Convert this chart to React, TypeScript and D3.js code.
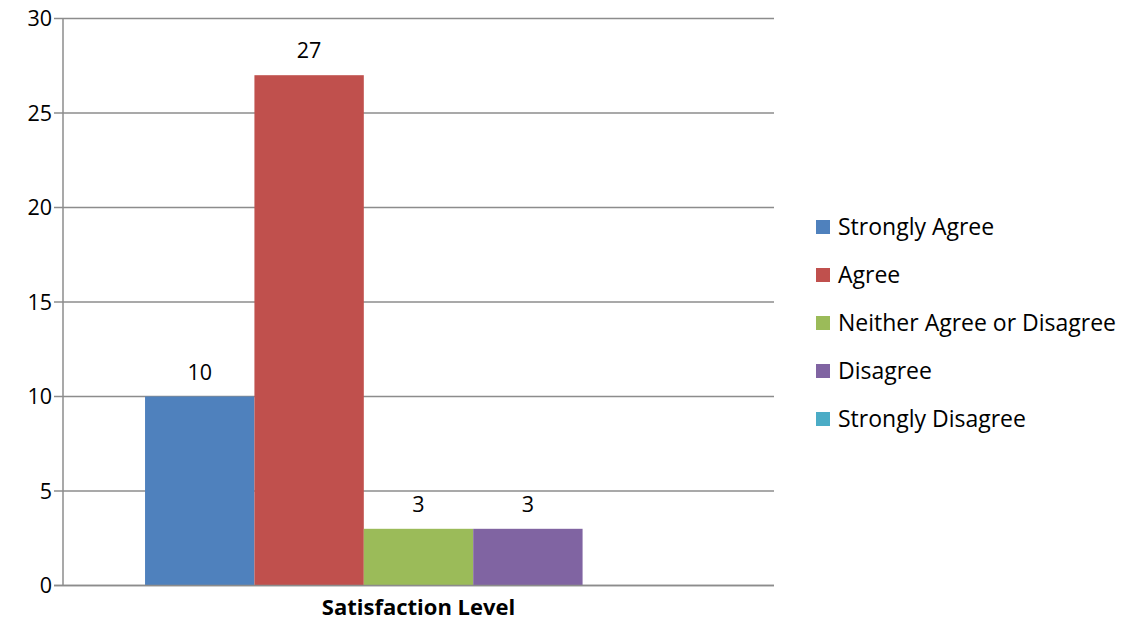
import React from 'react';
import { scaleBand, scaleLinear } from 'd3';

// survey answers, one bar per answer inside the single category
const category = 'Satisfaction Level';
const answers = ['Strongly Agree', 'Agree', 'Neither Agree or Disagree', 'Disagree', 'Strongly Disagree'];
const counts = [10, 27, 3, 3, 0];
const colors = ['#4F81BD', '#C0504D', '#9BBB59', '#8064A2', '#4BACC6'];
const yTicks = [0, 5, 10, 15, 20, 25, 30];

const width = 1122;
const height = 620;
const font = '"Open Sans", "Noto Sans", sans-serif';

const App = () => {
  const left = 63;
  const right = 774;
  const top = 18.5;
  const bottom = 585.5;

  // outer band for the one category, inner band for the answers (gap like excel 150%)
  const xOuter = scaleBand().domain([category]).range([left, right]).paddingOuter(0).paddingInner(0);
  const inner = scaleBand()
    .domain(answers)
    .range([0, xOuter.bandwidth()])
    .paddingOuter(0.75)
    .paddingInner(0);

  const yScale = scaleLinear().domain([0, 30]).range([bottom, top]);

  return (
    <svg width={width} height={height} style={{ position: 'absolute', left: 0, top: 0 }}>
      {/* gridlines and tick marks */}
      {yTicks.map((t) => (
        <g key={t}>
          <line x1={54} x2={right} y1={yScale(t)} y2={yScale(t)} stroke="#8C8C8C" strokeWidth={1.5} />
          <text x={52} y={yScale(t)} dy="0.35em" textAnchor="end" fontFamily={font} fontSize={21.5} fill="#000">
            {t}
          </text>
        </g>
      ))}

      {/* bars */}
      {answers.map((a, i) => {
        const x = (xOuter(category) || 0) + (inner(a) || 0);
        return (
          <rect
            key={a}
            x={x}
            y={yScale(counts[i])}
            width={inner.bandwidth()}
            height={bottom - yScale(counts[i])}
            fill={colors[i]}
          />
        );
      })}

      {/* y axis line */}
      <line x1={left} x2={left} y1={top} y2={bottom} stroke="#8C8C8C" strokeWidth={1.5} />
      <line x1={54} x2={right} y1={bottom} y2={bottom} stroke="#8C8C8C" strokeWidth={1.5} />

      {/* value labels, zero counts are not labelled */}
      {answers.map((a, i) =>
        counts[i] > 0 ? (
          <text
            key={a}
            x={(xOuter(category) || 0) + (inner(a) || 0) + inner.bandwidth() / 2}
            y={yScale(counts[i]) - 17}
            textAnchor="middle"
            fontFamily={font}
            fontSize={21.5}
            fill="#000"
          >
            {counts[i]}
          </text>
        ) : null
      )}

      {/* category title */}
      <text
        x={(xOuter(category) || 0) + xOuter.bandwidth() / 2}
        y={615}
        textAnchor="middle"
        fontFamily={font}
        fontSize={22}
        fontWeight="bold"
        fill="#000"
      >
        {category}
      </text>

      {/* legend */}
      {answers.map((a, i) => (
        <g key={a} transform={`translate(816, ${227 + i * 48})`}>
          <rect x={0} y={-7} width={14} height={14} fill={colors[i]} />
          <text x={22} y={0} dy="0.35em" fontFamily={font} fontSize={23} fill="#000">
            {a}
          </text>
        </g>
      ))}
    </svg>
  );
};

export default App;
